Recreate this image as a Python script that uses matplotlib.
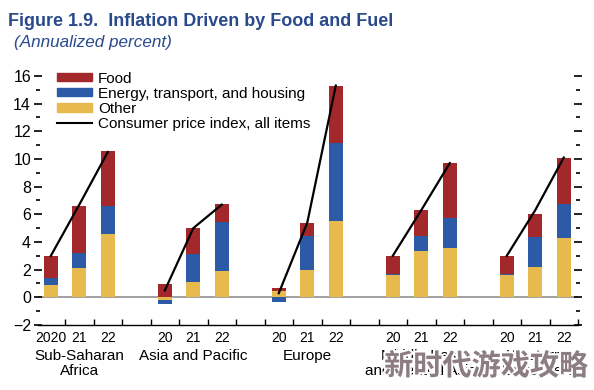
import matplotlib
matplotlib.use("Agg")
import matplotlib.pyplot as plt
import matplotlib.patheffects as pe
from matplotlib.lines import Line2D
from matplotlib.patches import Patch
from matplotlib.ticker import MultipleLocator

plt.rcParams['font.family'] = ['Liberation Sans', 'DejaVu Sans']

regions = ["Sub-Saharan\nAfrica", "Asia and Pacific", "Europe",
           "Middle East\nand Central Asia", "Western\nHemisphere"]
year_labels = [["2020", "21", "22"], ["20", "21", "22"], ["20", "21", "22"],
               ["20", "21", "22"], ["20", "21", "22"]]

# per region: values for 2020, 2021, 2022
food = [[1.6, 3.4, 4.0], [0.95, 1.9, 1.3], [0.2, 0.9, 4.1],
        [1.3, 1.9, 4.0], [1.35, 1.65, 3.35]]
energy = [[0.5, 1.1, 2.0], [-0.3, 2.0, 3.55], [-0.35, 2.5, 5.6],
          [0.1, 1.05, 2.1], [0.05, 2.15, 2.45]]
other = [[0.9, 2.1, 4.6], [-0.2, 1.1, 1.9], [0.45, 1.95, 5.55],
         [1.6, 3.35, 3.6], [1.6, 2.2, 4.3]]
cpi = [[3.0, 6.7, 10.5], [0.5, 5.0, 6.7], [0.3, 5.4, 15.3],
       [3.0, 6.3, 9.7], [3.0, 6.3, 10.1]]

c_food = "#a3282c"
c_energy = "#2d5aa6"
c_other = "#e8b94d"
title_col = "#2a4a8c"

fig = plt.figure(figsize=(5.94, 3.9), dpi=100)
ax = fig.add_axes([38/594, 1 - 325/390, (578-38)/594, (325-69)/390])

width = 0.5
group_gap = 4
xt, xl = [], []
for g in range(len(regions)):
    xs = [g*group_gap + i for i in range(3)]
    for i, x in enumerate(xs):
        segs = [(other[g][i], c_other), (energy[g][i], c_energy), (food[g][i], c_food)]
        pos_base, neg_base = 0.0, 0.0
        for v, c in segs:
            if v >= 0:
                ax.bar(x, v, width, bottom=pos_base, color=c, linewidth=0, zorder=2)
                pos_base += v
            else:
                ax.bar(x, v, width, bottom=neg_base, color=c, linewidth=0, zorder=2)
                neg_base += v
        xt.append(x)
        xl.append(year_labels[g][i])
    ax.plot(xs, cpi[g], color="black", lw=1.6, zorder=4)
    ax.text(xs[1], -0.092, regions[g], transform=ax.get_xaxis_transform(),
            ha="center", va="top", fontsize=11, linespacing=1.12)

ax.axhline(0, color="#9a9a9a", lw=1.3, zorder=1)

ax.set_xlim(-0.45, 18.5)
for s in ["top", "left", "right"]:
    ax.spines[s].set_visible(False)
ax.spines["bottom"].set_linewidth(1.0)

ax.set_xticks(xt)
ax.set_xticklabels(xl, fontsize=10)
ax.tick_params(axis="x", which="major", length=0, pad=4)
ax.set_xticks([i + 0.5 for i in range(19)], minor=True)
ax.tick_params(axis="x", which="minor", direction="in", length=4, width=1)

ax.yaxis.set_minor_locator(MultipleLocator(1))
ax.set_yticks(range(-2, 17, 2))
ax.set_yticklabels(["\u22122"] + [str(v) for v in range(0, 17, 2)], fontsize=11.5)
ax.tick_params(axis="y", which="major", direction="inout", length=6, width=1.2,
               right=True, pad=2)
ax.tick_params(axis="y", which="minor", direction="inout", length=3, width=1.2,
               right=True)
ax.set_ylim(-2, 16.5)

handles = [Patch(color=c_food), Patch(color=c_energy), Patch(color=c_other),
           Line2D([0], [0], color="black", lw=1.5)]
labels = ["Food", "Energy, transport, and housing", "Other",
          "Consumer price index, all items"]
ax.legend(handles, labels, loc="upper left", bbox_to_anchor=(0.035, 0.99),
          frameon=False, fontsize=11, handlelength=2.3, handleheight=0.45,
          labelspacing=0.08, handletextpad=0.4, borderaxespad=0, borderpad=0)

fig.text(8/594, 1 - 22/390, "Figure 1.9.  Inflation Driven by Food and Fuel",
         fontsize=13, fontweight="bold", color=title_col, va="center", ha="left")
fig.text(14/594, 1 - 42/390, "(Annualized percent)", fontsize=12.3,
         style="italic", color=title_col, va="center", ha="left")

fig.text(486/594, 1 - 366/390, "新时代游戏攻略", fontsize=21, fontweight="bold",
         family=["Noto Sans CJK SC"], color="#8c7c84", ha="center", va="center",
         path_effects=[pe.withStroke(linewidth=3, foreground="white")], zorder=10)

fig.savefig("out.png", dpi=100)
